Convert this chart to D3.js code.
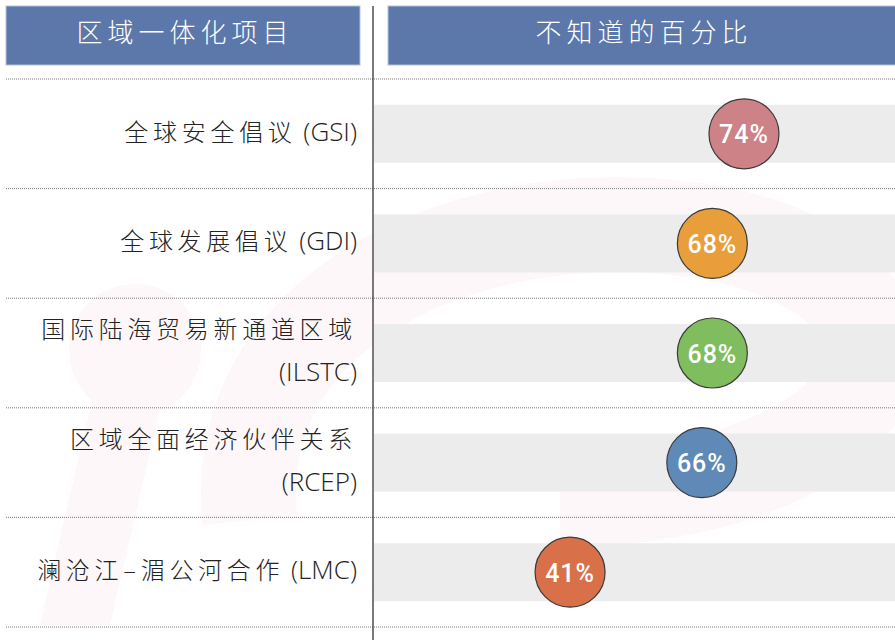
<!DOCTYPE html>
<html lang="zh">
<head>
<meta charset="utf-8">
<title>不知道的百分比</title>
<script src="https://d3js.org/d3.v7.min.js"></script>
<style>
  body { margin: 0; background: #fff; }
  .head { font-family: "Noto Sans CJK SC", sans-serif; font-weight: 300; font-size: 26px; fill: #fff; letter-spacing: 5px; }
  .lab { font-family: "Noto Sans CJK SC", sans-serif; font-weight: 300; font-size: 24px; fill: #222; }
  .lab .lat { font-family: "Open Sans", "Liberation Sans", sans-serif; font-weight: 300; font-size: 26px; letter-spacing: 0; }
  .pct { font-family: Roboto, sans-serif; font-weight: 500; font-size: 25px; fill: #fff; letter-spacing: 1px; }
</style>
</head>
<body>
<svg width="895" height="640"></svg>
<script>
// data
var headers = ["区域一体化项目", "不知道的百分比"];
var labelsCn = ["全球安全倡议", "全球发展倡议", "国际陆海贸易新通道区域", "区域全面经济伙伴关系", "澜沧江–湄公河合作"];
var labelsEn = ["(GSI)", "(GDI)", "(ILSTC)", "(RCEP)", "(LMC)"];
var twoLine = [false, false, true, true, false];
var values = [74, 68, 68, 66, 41];
var colors = ["#cc8286", "#e89f3b", "#80bd5f", "#5f8ab7", "#d8714a"];

var svg = d3.select("svg");
var W = 895, H = 640;
var colSplit = 373;

// very faint watermark in the background
var wm = svg.append("g").attr("fill", "#fdf7f9");
wm.append("path").attr("d", "M40,625 L110,625 L185,300 L115,300 Z");
wm.append("circle").attr("cx", 135).attr("cy", 350).attr("r", 66);
wm.append("path").attr("fill", "none").attr("stroke", "#fdf7f9").attr("stroke-width", 95)
  .attr("d", "M250,520 C230,330 420,230 600,225 C760,220 880,280 870,360 C860,450 700,500 560,500");

var y = d3.scaleBand().domain(d3.range(values.length)).range([79, 627]);
var x = d3.scaleLinear().domain([0, 100]).range([354, 881]);

// header boxes
svg.append("rect").attr("x", 6).attr("y", 6).attr("width", 354).attr("height", 59)
  .attr("fill", "#5c78aa").attr("stroke", "#b3c1db").attr("stroke-width", 1);
svg.append("rect").attr("x", 388).attr("y", 6).attr("width", 508).attr("height", 59)
  .attr("fill", "#5c78aa").attr("stroke", "#b3c1db").attr("stroke-width", 1);
svg.selectAll(".head").data(headers).join("text")
  .attr("class", "head")
  .attr("x", (d, i) => i === 0 ? 185 : 644)
  .attr("y", 35)
  .attr("text-anchor", "middle")
  .attr("dominant-baseline", "middle")
  .text(d => d);

// grey bands
svg.selectAll(".band").data(values).join("rect")
  .attr("class", "band")
  .attr("x", colSplit + 1).attr("width", W - colSplit)
  .attr("y", (d, i) => y(i) + y.bandwidth() / 2 - 29)
  .attr("height", 58)
  .attr("fill", "#ebebeb").attr("opacity", 0.95);

// dotted separators
svg.selectAll(".sep").data(d3.range(values.length + 1)).join("line")
  .attr("class", "sep")
  .attr("x1", 6).attr("x2", W)
  .attr("y1", d => d < values.length ? y(d) : y.range()[1])
  .attr("y2", d => d < values.length ? y(d) : y.range()[1])
  .attr("stroke", "#777").attr("stroke-width", 1).attr("stroke-dasharray", "1,1");

// vertical divider
svg.append("line").attr("x1", colSplit).attr("x2", colSplit).attr("y1", 6).attr("y2", H)
  .attr("stroke", "#333").attr("stroke-width", 1.3);

// row labels
var lab = svg.selectAll(".lab").data(values).join("text")
  .attr("class", "lab")
  .attr("text-anchor", "end")
  .attr("dominant-baseline", "middle");
lab.each(function(d, i) {
  var t = d3.select(this);
  var cy = y(i) + y.bandwidth() / 2;
  if (twoLine[i]) {
    t.append("tspan").attr("x", 357).attr("y", cy - 22).attr("letter-spacing", "4.7px").text(labelsCn[i]);
    t.append("tspan").attr("class", "lat").attr("x", 357).attr("y", cy + 21).text(labelsEn[i]);
  } else {
    t.attr("x", 357).attr("y", cy);
    t.append("tspan").attr("letter-spacing", "4.7px").text(labelsCn[i]);
    t.append("tspan").attr("class", "lat").text(" " + labelsEn[i]);
  }
});

// bubbles
var dots = svg.selectAll(".dot").data(values).join("g")
  .attr("class", "dot")
  .attr("transform", (d, i) => `translate(${x(d)}, ${y(i) + y.bandwidth() / 2})`);
dots.append("circle").attr("r", 35).attr("fill", (d, i) => colors[i])
  .attr("stroke", "#3a3a3a").attr("stroke-width", 1.2);
dots.append("text").attr("class", "pct")
  .attr("text-anchor", "middle").attr("dominant-baseline", "central")
  .attr("y", 1)
  .text(d => d + "%");
</script>
</body>
</html>
